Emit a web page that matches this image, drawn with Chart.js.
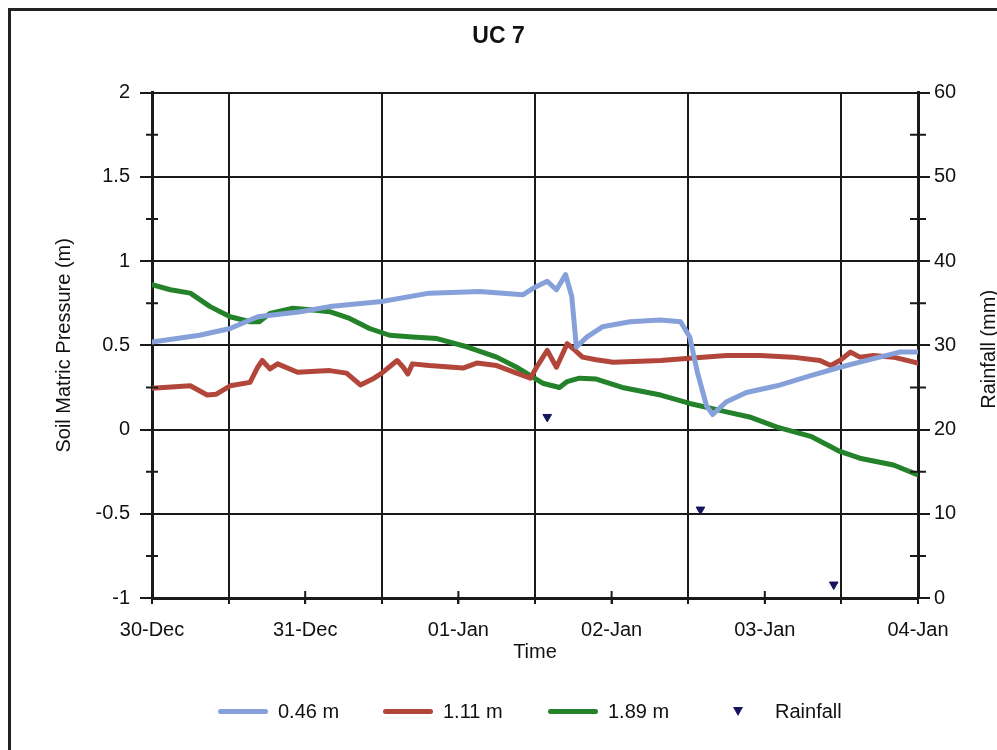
<!DOCTYPE html>
<html>
<head>
<meta charset="utf-8">
<title>UC 7</title>
<script src="https://cdn.jsdelivr.net/npm/chart.js@4.4.1/dist/chart.umd.min.js"></script>
<style>
  body { margin: 0; background: #fff; }
  #wrap { position: relative; width: 997px; height: 750px; overflow: hidden; }
  #frame { position: absolute; left: 8px; top: 8px; width: 1100px; height: 900px;
           border-left: 3px solid #222; border-top: 3px solid #222; }
  #chart { position: absolute; left: 0; top: 0; }
  #legend { position: absolute; left: 218px; top: 700px; display: flex;
            font: 20px "Liberation Sans", Arial, sans-serif; color: #111; }
  .item { width: 165px; display: flex; align-items: center; height: 22px; }
  .swatch { width: 50px; height: 5px; border-radius: 3px; margin-right: 10px; }
  .mark { width: 50px; margin-right: 12px; display: flex; justify-content: center; }
  .tri { width: 0; height: 0; border-left: 5px solid transparent; border-right: 5px solid transparent; }
</style>
</head>
<body>
<div id="wrap">
  <div id="frame"></div>
  <canvas id="chart" width="997" height="750"></canvas>
  <div id="legend"></div>
</div>
<script>
// time axis: days since 30-Dec 00:00
const dayLabels = ['30-Dec', '31-Dec', '01-Jan', '02-Jan', '03-Jan', '04-Jan'];
const pressureTicks = [-1, -0.5, 0, 0.5, 1, 1.5, 2];
const pressureMinor = [1.75, 1.25, 0.75, 0.25, -0.25, -0.75];
const rainTicks = [0, 10, 20, 30, 40, 50, 60];
const rainMinor = [55, 45, 35, 25, 15, 5];

// 0.46 m tensiometer
const shallowDays = [0, 0.31, 0.51, 0.69, 0.97, 1.16, 1.50, 1.81, 2.14, 2.42, 2.49, 2.58, 2.64, 2.70, 2.74,
  2.77, 2.84, 2.94, 3.12, 3.32, 3.45, 3.51, 3.56, 3.62, 3.66, 3.75, 3.88, 4.08, 4.30, 4.49, 4.62, 4.75, 4.88, 5.00];
const shallowPressure = [0.52, 0.56, 0.60, 0.67, 0.70, 0.73, 0.76, 0.81, 0.82, 0.80, 0.84, 0.88, 0.83, 0.92, 0.79,
  0.49, 0.55, 0.61, 0.64, 0.65, 0.64, 0.55, 0.34, 0.14, 0.09, 0.165, 0.22, 0.26, 0.32, 0.37, 0.40, 0.43, 0.46, 0.46];

// 1.11 m tensiometer
const midDays = [0, 0.25, 0.36, 0.42, 0.51, 0.64, 0.69, 0.72, 0.77, 0.82, 0.95, 1.16, 1.27, 1.36, 1.44, 1.50,
  1.60, 1.64, 1.67, 1.70, 1.81, 2.03, 2.12, 2.25, 2.38, 2.47, 2.51, 2.58, 2.64, 2.71, 2.75, 2.81, 2.90, 3.01,
  3.32, 3.53, 3.75, 3.97, 4.18, 4.36, 4.43, 4.49, 4.56, 4.62, 4.71, 4.84, 5.00];
const midPressure = [0.245, 0.26, 0.205, 0.21, 0.26, 0.28, 0.37, 0.41, 0.36, 0.39, 0.34, 0.35, 0.335, 0.265, 0.30, 0.335,
  0.41, 0.37, 0.33, 0.39, 0.38, 0.365, 0.395, 0.38, 0.335, 0.305, 0.37, 0.47, 0.37, 0.51, 0.48, 0.43, 0.415, 0.40,
  0.41, 0.425, 0.44, 0.44, 0.43, 0.41, 0.38, 0.41, 0.46, 0.43, 0.44, 0.43, 0.395];

// 1.89 m tensiometer
const deepDays = [0, 0.12, 0.25, 0.38, 0.51, 0.64, 0.70, 0.77, 0.92, 1.05, 1.16, 1.29, 1.42, 1.55, 1.70, 1.86,
  2.06, 2.25, 2.38, 2.47, 2.55, 2.66, 2.71, 2.79, 2.90, 3.07, 3.32, 3.51, 3.75, 3.90, 4.08, 4.30, 4.49, 4.62, 4.84, 5.00];
const deepPressure = [0.86, 0.83, 0.81, 0.73, 0.67, 0.64, 0.64, 0.69, 0.72, 0.71, 0.70, 0.66, 0.60, 0.56, 0.55, 0.54,
  0.49, 0.43, 0.37, 0.32, 0.275, 0.25, 0.285, 0.305, 0.30, 0.25, 0.205, 0.155, 0.105, 0.075, 0.015, -0.04, -0.13, -0.17, -0.21, -0.27];

// rainfall events (right axis)
const rainDays = [2.58, 3.58, 4.45];
const rainMm = [21.5, 10.5, 1.6];

function toPoints(xs, ys) {
  return xs.map((x, i) => ({ x: x, y: ys[i] }));
}

Chart.defaults.font.family = '"Liberation Sans", Arial, sans-serif';
Chart.defaults.font.size = 20;
Chart.defaults.color = '#111';

const ink = '#1a1a1a';

// cross ticks on the axes and the rainfall axis title
const axisExtras = {
  id: 'axisExtras',
  afterDraw(chart) {
    const { ctx, chartArea, scales } = chart;
    ctx.save();
    ctx.strokeStyle = ink;
    ctx.lineWidth = 2;
    ctx.beginPath();
    pressureMinor.forEach(v => {
      const y = scales.y.getPixelForValue(v);
      ctx.moveTo(chartArea.left - 6, y);
      ctx.lineTo(chartArea.left + 6, y);
    });
    rainMinor.forEach(v => {
      const y = scales.y2.getPixelForValue(v);
      ctx.moveTo(chartArea.right - 8, y);
      ctx.lineTo(chartArea.right + 8, y);
    });
    dayLabels.forEach((d, i) => {
      const x = scales.x.getPixelForValue(i);
      ctx.moveTo(x, chartArea.bottom - 7);
      ctx.lineTo(x, chartArea.bottom + 6);
    });
    ctx.stroke();

    ctx.translate(scales.y2.right - 8, (chartArea.top + chartArea.bottom) / 2 + 4);
    ctx.rotate(-Math.PI / 2);
    ctx.fillStyle = '#111';
    ctx.font = '20px "Liberation Sans", Arial, sans-serif';
    ctx.textAlign = 'center';
    ctx.textBaseline = 'middle';
    ctx.fillText('Rainfall (mm)', 0, 0);
    ctx.restore();
  }
};

const chart = new Chart(document.getElementById('chart'), {
  type: 'line',
  data: {
    datasets: [
      {
        label: '0.46 m',
        data: toPoints(shallowDays, shallowPressure),
        borderColor: '#86a1da',
        yAxisID: 'y'
      },
      {
        label: '1.11 m',
        data: toPoints(midDays, midPressure),
        borderColor: '#b3463a',
        yAxisID: 'y'
      },
      {
        label: '1.89 m',
        data: toPoints(deepDays, deepPressure),
        borderColor: '#23822a',
        yAxisID: 'y'
      },
      {
        label: 'Rainfall',
        data: toPoints(rainDays, rainMm),
        yAxisID: 'y2',
        showLine: false,
        pointStyle: 'triangle',
        rotation: 180,
        pointRadius: 5,
        pointBackgroundColor: '#15155e',
        pointBorderColor: '#15155e',
        borderColor: '#15155e',
        backgroundColor: '#15155e'
      }
    ]
  },
  options: {
    responsive: false,
    devicePixelRatio: 1,
    animation: false,
    layout: { padding: 0 },
    elements: {
      line: { borderWidth: 5, tension: 0, borderCapStyle: 'round', borderJoinStyle: 'round' },
      point: { radius: 0 }
    },
    plugins: {
      legend: { display: false },
      tooltip: { enabled: false },
      title: {
        display: true,
        text: 'UC 7',
        font: { size: 23, weight: 'bold' },
        color: '#111',
        padding: { top: 22.7, bottom: 42.4 }
      }
    },
    scales: {
      x: {
        type: 'linear',
        min: 0,
        max: 5,
        afterFit: s => { s.height = 152; },
        ticks: {
          stepSize: 0.5,
          autoSkip: false,
          maxRotation: 0,
          padding: 14,
          callback: v => Number.isInteger(v) ? dayLabels[v] : ''
        },
        grid: {
          color: c => (c.tick && !Number.isInteger(c.tick.value)) ? ink : 'rgba(0,0,0,0)',
          lineWidth: 2,
          tickColor: ink,
          tickWidth: 2,
          tickLength: 6
        },
        border: { display: true, color: ink, width: 3 },
        title: { display: true, text: 'Time', padding: { top: 0, bottom: 86 } }
      },
      y: {
        position: 'left',
        min: -1,
        max: 2,
        afterFit: s => { s.width = 152; },
        afterBuildTicks: s => { s.ticks = pressureTicks.map(v => ({ value: v })); },
        ticks: { padding: 10, callback: v => String(v) },
        grid: { color: ink, lineWidth: 2, tickLength: 12 },
        border: { display: true, color: ink, width: 3 },
        title: { display: true, text: 'Soil Matric Pressure (m)', padding: { top: 52 } }
      },
      y2: {
        position: 'right',
        min: 0,
        max: 60,
        afterFit: s => { s.width = 79; },
        afterBuildTicks: s => { s.ticks = rainTicks.map(v => ({ value: v })); },
        ticks: { padding: 4, callback: v => String(v) },
        grid: { drawOnChartArea: false, color: ink, lineWidth: 2, tickLength: 12 },
        border: { display: true, color: ink, width: 3 }
      }
    }
  },
  plugins: [axisExtras]
});

// legend row under the chart, built from the datasets
const legend = document.getElementById('legend');
chart.data.datasets.forEach(ds => {
  const item = document.createElement('div');
  item.className = 'item';
  if (ds.showLine === false) {
    const mark = document.createElement('div');
    mark.className = 'mark';
    const tri = document.createElement('div');
    tri.className = 'tri';
    tri.style.borderTop = '9px solid ' + ds.pointBackgroundColor;
    mark.appendChild(tri);
    item.appendChild(mark);
  } else {
    const sw = document.createElement('div');
    sw.className = 'swatch';
    sw.style.background = ds.borderColor;
    item.appendChild(sw);
  }
  const txt = document.createElement('span');
  txt.textContent = ds.label;
  item.appendChild(txt);
  legend.appendChild(item);
});
</script>
</body>
</html>
